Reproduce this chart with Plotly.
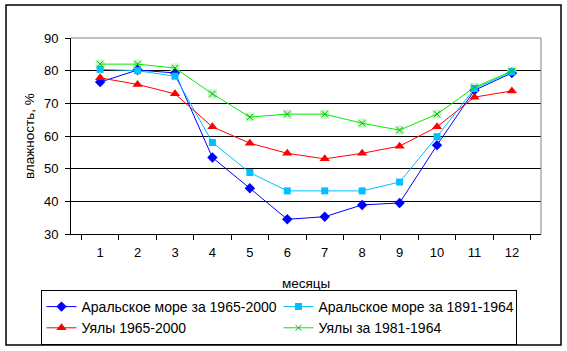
import plotly.graph_objects as go

months = [str(i) for i in range(1, 13)]
aral_1965_2000 = [76.5, 80.2, 79.3, 53.4, 44.0, 34.5, 35.3, 38.9, 39.5, 57.2, 74.0, 79.3]
aral_1891_1964 = [80.4, 80.0, 78.3, 58.0, 48.8, 43.2, 43.2, 43.2, 45.9, 59.8, 74.5, 79.6]
uyaly_1965_2000 = [77.8, 75.8, 72.9, 62.8, 57.8, 54.7, 53.0, 54.7, 56.9, 62.8, 71.9, 73.8]
uyaly_1981_1964 = [82.0, 82.0, 80.8, 72.9, 65.8, 66.7, 66.7, 63.9, 61.8, 66.7, 74.9, 79.9]

names = ["Аральское море за 1965-2000", "Аральское море за 1891-1964",
         "Уялы 1965-2000", "Уялы за 1981-1964"]

fam = "Liberation Sans, Arial, sans-serif"
font = dict(family=fam, size=13, color="black")
title_font = dict(family=fam, size=13.5, color="black")
legend_font = dict(family=fam, size=14, color="black")

fig = go.Figure()
# light green square backgrounds for the green series markers
fig.add_trace(go.Scatter(x=months, y=uyaly_1981_1964, mode="markers", showlegend=False,
                         marker=dict(symbol="square", size=9, color="#c6f5c6", line=dict(width=0)),
                         hoverinfo="skip"))
fig.add_trace(go.Scatter(x=months, y=aral_1965_2000, mode="lines+markers", name=names[0],
                         line=dict(color="#0000ff", width=1),
                         marker=dict(symbol="diamond", size=8, color="#0000ff")))
fig.add_trace(go.Scatter(x=months, y=aral_1891_1964, mode="lines+markers", name=names[1],
                         line=dict(color="#00c0ff", width=1),
                         marker=dict(symbol="square", size=7, color="#00c0ff")))
fig.add_trace(go.Scatter(x=months, y=uyaly_1965_2000, mode="lines+markers", name=names[2],
                         line=dict(color="#ff0000", width=1),
                         marker=dict(symbol="triangle-up", size=9, color="#ff0000")))
fig.add_trace(go.Scatter(x=months, y=uyaly_1981_1964, mode="lines+markers", name=names[3],
                         line=dict(color="#00ee00", width=1),
                         marker=dict(symbol="x-thin", size=6, color="#00bb00",
                                     line=dict(color="#00bb00", width=1))))

x_left, x_right, y_top, y_bot = 71, 541, 38, 234
W, H = 567, 351
pw, ph = x_right - x_left, y_bot - y_top

def px(xp):
    return (xp - x_left) / pw

def py(yp):
    return (y_bot - yp) / ph

fig.update_layout(
    width=W, height=H,
    margin=dict(l=x_left, r=W - x_right, t=y_top, b=H - y_bot, autoexpand=False),
    paper_bgcolor="white", plot_bgcolor="white",
    font=font,
    xaxis=dict(type="category", tickson="boundaries", ticks="outside", ticklen=5,
               tickcolor="black", showline=True, linecolor="black", linewidth=1,
               showgrid=False, tickfont=font, ticklabelstandoff=6),
    yaxis=dict(range=[30, 90], dtick=10, ticks="outside", ticklen=5, tickcolor="black",
               showline=True, linecolor="black", linewidth=1, showgrid=True,
               gridcolor="black", gridwidth=1, tickfont=font, zeroline=False,
               ticklabelstandoff=4),
    legend=dict(orientation="h", xref="paper", yref="paper",
                x=px(40.5), y=py(290), xanchor="left", yanchor="top",
                bordercolor="black", borderwidth=1, entrywidth=192, entrywidthmode="pixels",
                font=legend_font, tracegroupgap=0, traceorder="normal", itemwidth=30),
    annotations=[
        dict(text="влажность, %", textangle=-90, xref="paper", yref="paper",
             x=px(29), y=0.5, showarrow=False, font=title_font, xanchor="center", yanchor="middle"),
        dict(text="месяцы", xref="paper", yref="paper", x=0.5, y=py(283),
             showarrow=False, font=title_font, xanchor="center", yanchor="middle"),
    ],
    shapes=[
        dict(type="line", xref="paper", yref="paper", x0=0, x1=1, y0=1, y1=1,
             line=dict(color="#808080", width=1), layer="above"),
        dict(type="line", xref="paper", yref="paper", x0=1, x1=1, y0=0, y1=1,
             line=dict(color="#808080", width=1), layer="above"),
        dict(type="rect", xref="paper", yref="paper", x0=px(6), x1=px(561),
             y0=py(345), y1=py(5), line=dict(color="black", width=1.5), layer="above"),
    ],
)

fig.write_html("out.html")
